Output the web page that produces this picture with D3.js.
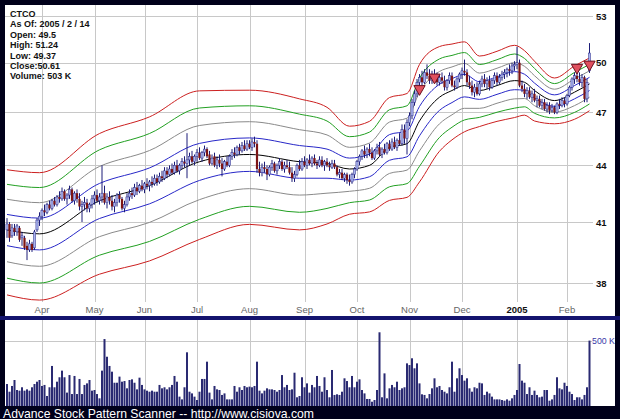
<!DOCTYPE html>
<html><head><meta charset="utf-8">
<script src="https://cdn.jsdelivr.net/npm/d3@7"></script>
<style>html,body{margin:0;padding:0;background:#00001a;} svg{display:block}</style>
</head><body>
<svg id="c" width="620" height="419"></svg>
<script>
// ---------------- DATA ----------------
const infoLines = ["CTCO", "As Of: 2005 / 2 / 14", "Open: 49.5", "High: 51.24", "Low: 49.37", "Close:50.61", "Volume: 503 K"];
const firstDay = "2004-03-12", lastDay = "2005-02-14";
const holidays = ["2004-04-09","2004-05-31","2004-06-11","2004-07-05","2004-09-06","2004-11-25","2004-12-24","2005-01-17"];
const monthLabels = ["Apr","May","Jun","Jul","Aug","Sep","Oct","Nov","Dec","2005","Feb"];
const monthStarts = ["2004-04-01","2004-05-03","2004-06-01","2004-07-01","2004-08-02","2004-09-01","2004-10-01","2004-11-01","2004-12-01","2005-01-03","2005-02-01"];
const priceTicks = [38, 41, 44, 47, 50, 53];
const volumeTicks = [500];
const volumeTickLabels = ["500 K"];

const open = [
40.6,40.9,40.3,40.7,40.5,40.7,40.2,40.2,39.8,39.6,39.9,39.7,40.6,41.1,
41.3,41.6,41.5,41.9,41.7,42.1,41.9,42.3,42.2,42.6,42.2,42.4,42.7,42.1,42.5,42.2,41.8,41.9,42.0,41.7,41.9,
42.2,42.4,42.1,42.3,42.5,42.0,42.3,42.1,41.8,42.0,42.4,42.2,41.7,41.9,42.3,42.5,42.4,42.8,42.6,42.9,
42.7,43.0,42.9,43.1,43.0,43.3,43.1,43.4,43.3,43.7,43.5,43.8,43.6,44.0,43.7,44.0,44.2,44.1,44.3,44.5,44.2,
44.5,44.7,44.4,44.7,44.9,44.6,44.1,44.5,44.0,44.3,44.1,43.8,44.2,44.0,44.5,44.7,44.6,45.0,44.8,45.1,44.9,
45.2,45.0,45.3,45.2,43.8,43.6,43.9,43.8,43.5,43.9,44.1,43.7,44.0,44.2,43.8,44.0,43.9,43.6,43.3,43.5,44.0,43.8,
44.2,44.0,44.3,44.1,44.4,44.1,44.0,44.3,44.0,44.2,44.0,43.9,44.1,43.9,43.5,43.6,43.3,43.5,43.2,43.1,43.5,
43.8,44.2,44.5,44.8,44.6,44.9,44.7,44.4,44.8,45.0,44.6,44.9,44.7,45.2,44.9,45.3,45.0,45.4,45.2,46.0,45.5,
46.4,46.8,47.6,48.1,48.8,49.1,48.8,49.4,49.2,48.9,49.3,49.0,48.8,49.1,48.9,48.5,48.9,49.2,48.6,48.5,49.0,
49.3,49.5,49.4,48.8,48.6,48.2,48.5,48.1,48.7,49.0,48.7,48.9,48.5,48.9,49.2,48.8,49.1,49.3,49.4,49.6,49.5,49.8,
49.9,50.0,48.6,48.4,48.1,48.3,47.9,48.1,47.7,47.8,47.4,47.6,47.2,47.4,47.1,47.3,47.0,47.5,47.4,47.7,
47.5,48.0,48.5,49.0,49.2,49.0,48.8,49.1,47.8,49.5];
const high = [
41.2,41.0,40.9,40.9,40.9,40.8,40.5,40.3,40.0,40.1,40.0,40.6,41.2,41.5,
41.7,41.9,42.0,42.1,42.2,42.3,42.4,42.6,42.8,42.7,42.5,42.9,42.8,42.6,42.7,42.5,42.1,42.3,42.2,42.0,42.4,
42.6,42.7,42.5,44.0,42.9,42.5,42.6,42.4,42.2,42.5,42.6,42.3,42.1,42.5,42.7,42.8,43.0,43.1,43.0,43.2,
43.1,43.3,43.2,43.4,43.5,43.5,43.6,43.7,43.9,43.9,44.0,44.1,44.2,44.3,44.1,44.4,44.5,45.8,44.7,44.8,44.6,
44.9,45.0,44.8,45.1,45.0,44.8,44.6,44.7,44.5,44.6,44.4,44.3,44.5,44.6,44.9,45.0,45.1,45.2,45.3,45.4,45.4,
45.4,45.5,45.6,45.4,44.2,44.1,44.2,44.0,44.0,44.3,44.2,44.1,44.4,44.3,44.2,44.3,44.2,43.9,43.7,44.1,44.3,44.4,
44.5,44.4,44.6,44.5,44.6,44.3,44.5,44.5,44.3,44.4,44.2,44.3,44.3,44.0,43.8,43.8,43.6,43.6,43.5,43.6,43.9,
44.3,44.6,44.9,45.1,45.0,45.2,45.0,44.9,45.2,45.3,45.0,45.2,45.3,45.4,45.5,45.6,45.5,45.8,46.3,46.3,46.6,
47.0,47.8,48.3,49.0,49.3,49.5,49.6,49.9,49.6,49.5,49.6,49.4,49.3,49.4,49.2,49.0,49.4,49.4,48.9,49.1,49.4,
49.7,50.2,49.6,49.2,48.9,48.7,48.8,48.9,49.2,49.3,49.1,49.2,49.0,49.4,49.4,49.3,49.5,49.6,49.7,49.9,50.0,50.1,
51.0,50.2,48.9,48.7,48.5,48.5,48.3,48.4,48.0,48.0,47.8,47.8,47.6,47.6,47.5,47.4,47.6,47.8,47.9,47.9,
48.1,48.6,49.1,49.4,49.5,49.4,49.3,49.2,49.0,51.24];
const low = [
40.2,40.0,40.2,40.3,40.3,40.0,39.8,39.6,39.1,39.5,39.5,39.6,40.5,40.8,
41.1,41.3,41.4,41.6,41.6,41.8,41.8,42.0,42.1,42.1,41.9,42.2,42.0,41.9,42.0,41.6,41.0,41.6,41.5,41.5,41.7,
41.9,42.0,41.9,42.0,41.9,41.7,41.9,41.6,41.5,41.8,42.0,41.6,41.5,41.8,42.1,42.2,42.3,42.4,42.5,42.6,
42.5,42.7,42.6,42.8,42.9,42.9,43.0,43.1,43.2,43.3,43.4,43.5,43.5,43.6,43.5,43.8,43.9,43.3,44.0,44.1,44.0,
44.2,44.3,44.2,44.5,44.4,44.0,44.0,43.9,43.8,43.9,43.4,43.7,43.9,43.9,44.3,44.4,44.5,44.6,44.7,44.8,44.8,
44.9,44.8,45.0,43.6,43.4,43.4,43.6,43.2,43.4,43.7,43.6,43.5,43.8,43.7,43.6,43.8,43.5,43.1,43.1,43.4,43.7,43.7,
43.9,43.8,44.0,43.9,44.0,43.8,43.9,43.9,43.7,43.9,43.7,43.8,43.8,43.4,43.3,43.2,43.1,43.0,42.9,43.0,43.3,
43.7,44.0,44.3,44.4,44.4,44.5,44.3,44.3,44.6,44.5,44.4,44.6,44.6,44.8,44.8,44.9,44.8,45.1,45.1,45.2,44.6,
46.2,46.6,47.4,47.9,48.4,48.6,48.7,49.0,48.7,48.7,48.8,48.6,48.6,48.7,48.3,48.3,48.7,48.5,48.3,48.4,48.8,
49.0,49.2,48.6,48.4,48.0,47.9,48.0,48.0,48.5,48.5,48.4,48.3,48.4,48.7,48.6,48.7,48.9,49.0,49.1,49.2,49.3,49.5,
49.6,48.5,48.2,47.9,47.8,47.8,47.6,47.6,47.3,47.3,47.2,47.1,47.0,46.9,47.0,46.9,46.9,47.2,47.3,47.3,
47.4,47.9,48.3,48.7,48.8,48.6,48.5,47.6,47.6,49.37];
const close = [
40.9,40.2,40.7,40.5,40.8,40.1,40.3,39.7,39.6,39.9,39.6,40.5,41.1,41.3,
41.6,41.5,41.9,41.7,42.1,41.9,42.3,42.2,42.6,42.2,42.4,42.7,42.1,42.5,42.2,41.8,41.9,42.0,41.7,41.9,42.2,
42.4,42.1,42.3,42.5,42.0,42.3,42.1,41.8,42.0,42.4,42.2,41.7,41.9,42.3,42.5,42.4,42.8,42.6,42.9,42.7,
43.0,42.9,43.1,43.0,43.3,43.1,43.4,43.3,43.7,43.5,43.8,43.6,44.0,43.7,44.0,44.2,44.1,44.3,44.5,44.2,44.5,
44.7,44.4,44.7,44.9,44.5,44.1,44.4,44.0,44.3,44.1,43.8,44.2,44.0,44.5,44.7,44.6,45.0,44.8,45.1,44.9,45.2,
45.0,45.3,45.2,43.8,43.6,43.9,43.8,43.5,43.9,44.1,43.7,44.0,44.2,43.8,44.0,43.9,43.6,43.3,43.5,44.0,43.8,44.2,
44.0,44.3,44.1,44.4,44.1,44.0,44.3,44.0,44.2,44.0,43.9,44.1,43.9,43.5,43.6,43.3,43.5,43.2,43.1,43.5,43.8,
44.2,44.5,44.8,44.6,44.9,44.7,44.4,44.8,45.0,44.6,44.9,44.7,45.2,44.9,45.3,45.0,45.4,45.2,46.0,45.5,46.4,
46.8,47.6,48.1,48.8,49.1,48.8,49.4,49.2,48.9,49.3,49.0,48.8,49.1,48.9,48.5,48.9,49.2,48.6,48.5,49.0,49.3,
49.5,49.4,48.8,48.6,48.2,48.5,48.1,48.7,49.0,48.7,48.9,48.5,48.9,49.2,48.8,49.1,49.3,49.4,49.6,49.5,49.8,49.9,
50.0,48.6,48.4,48.1,48.3,47.9,48.1,47.7,47.8,47.4,47.6,47.2,47.4,47.1,47.3,47.0,47.5,47.4,47.7,47.5,
48.0,48.5,49.0,49.2,49.0,48.8,49.1,47.8,48.8,50.61];
// volume in thousands
const volume = [
169,110,154,200,123,118,144,118,128,118,144,169,187,200,154,162,77,144,308,144,
187,221,272,221,103,238,92,231,92,208,92,162,174,200,118,123,92,59,272,515,
379,308,264,179,179,226,187,192,136,200,205,179,128,218,162,128,118,110,118,110,
110,162,136,144,128,144,162,231,187,72,51,144,413,110,97,72,46,110,208,208,
341,103,51,154,128,123,85,97,51,51,51,154,110,144,123,154,144,149,144,154,
341,118,97,118,136,128,128,123,110,123,238,144,162,123,128,256,67,77,221,144,
174,103,
162,144,231,154,110,221,123,67,277,85,90,85,110,213,192,144,231,144,187,205,
123,97,54,54,33,46,123,567,67,251,59,136,162,144,187,123,136,144,328,315,
367,290,328,174,90,85,59,92,136,213,144,154,123,110,97,144,341,110,213,290,
238,195,213,136,110,144,136,179,174,85,110,97,72,51,51,51,46,41,51,41,
59,85,123,323,195,179,92,144,85,118,85,67,72,123,123,41,51,85,221,136,
128,179,154,110,92,46,67,67,51,85,144,503];

// envelope bands: centre price and band step (price) read at bar indices
const bandIdx    = [0, 13, 37, 57, 77, 97, 117, 128, 137, 145, 153, 160, 165, 173, 178, 183, 189, 196, 203, 207, 211, 219, 227, 233];
const bandCenter = [40.6, 40.4, 42.1, 42.9, 44.2, 44.6, 44.2, 44.1, 43.8, 44.0, 45.0, 45.2, 46.5, 47.9, 48.3, 48.6, 48.3, 48.6, 48.9, 48.8, 48.3, 47.7, 48.2, 48.7];
const bandStep   = [0.79, 0.80, 0.92, 0.96, 1.02, 0.93, 0.90, 0.80, 0.60, 0.62, 0.72, 0.73, 0.85, 0.78, 0.72, 0.68, 0.53, 0.53, 0.55, 0.49, 0.45, 0.34, 0.40, 0.40];
const bandColors = ["#cc2020","#22a022","#8a8a8a","#2828c8","#000000","#2828c8","#8a8a8a","#22a022","#cc2020"];
const bandLevels = [4,3,2,1,0,-1,-2,-3,-4];

const markerIdx   = [165, 171, 228, 233];
const markerPrice = [48.4, 49.1, 49.7, 49.9];

// ---------------- DRAW ----------------
const svg = d3.select("#c");
const W = 620, H = 419;
const fmt = d3.timeFormat("%Y-%m-%d");
const parse = d3.timeParse("%Y-%m-%d");
const hol = new Set(holidays);
const dates = d3.timeDay.range(parse(firstDay), d3.timeDay.offset(parse(lastDay), 1))
  .filter(d => d.getDay() !== 0 && d.getDay() !== 6 && !hol.has(fmt(d))).map(fmt);

const bars = dates.map((d, i) => ({d, i, o: open[i], h: high[i], l: low[i], c: close[i], v: volume[i]}));

const x = d3.scalePoint().domain(dates).range([7, 589.5]);
const y = d3.scaleLog().domain([38, 53]).range([283, 16]);
const yv = d3.scaleLinear().domain([0, 500]).range([406, 341]);

const FONT = "'Liberation Sans', Arial, sans-serif";

svg.append("rect").attr("width", W).attr("height", H).attr("fill", "#00001a");
// main panel
svg.append("rect").attr("x", 5).attr("y", 5).attr("width", 610).attr("height", 311).attr("fill", "#fff");
svg.append("rect").attr("x", 0).attr("y", 316).attr("width", W).attr("height", 4).attr("fill", "#14146e");
// volume panel
svg.append("rect").attr("x", 5).attr("y", 320).attr("width", 610).attr("height", 86).attr("fill", "#fff");

const grid = "#c8c8c8";
// horizontal price grid
svg.append("g").selectAll("line").data(priceTicks).join("line")
  .attr("x1", 5).attr("x2", 593).attr("y1", d => Math.round(y(d)) + 0.5).attr("y2", d => Math.round(y(d)) + 0.5)
  .attr("stroke", grid).attr("stroke-width", 1);
svg.append("g").selectAll("text").data(priceTicks).join("text")
  .attr("x", 596).attr("y", d => y(d) + 3.5).text(d => d)
  .attr("font-family", FONT).attr("font-size", 9.5).attr("font-weight", "bold").attr("fill", "#111");
// vertical month grid
svg.append("g").selectAll("line").data(monthStarts).join("line")
  .attr("x1", d => Math.round(x(d)) + 0.5).attr("x2", d => Math.round(x(d)) + 0.5)
  .attr("y1", 5).attr("y2", 302).attr("stroke", grid);
svg.append("g").selectAll("line").data(monthStarts).join("line")
  .attr("x1", d => Math.round(x(d)) + 0.5).attr("x2", d => Math.round(x(d)) + 0.5)
  .attr("y1", 320).attr("y2", 406).attr("stroke", grid);
svg.append("g").selectAll("text").data(monthStarts).join("text")
  .attr("x", d => x(d)).attr("y", 313).attr("text-anchor", "middle")
  .text((d, i) => monthLabels[i])
  .attr("font-family", FONT).attr("font-size", 9.5)
  .attr("font-weight", (d, i) => monthLabels[i] === "2005" ? "bold" : "normal")
  .attr("fill", (d, i) => monthLabels[i] === "2005" ? "#111" : "#666");
// volume grid
svg.append("g").selectAll("line").data(volumeTicks).join("line")
  .attr("x1", 5).attr("x2", 592).attr("y1", d => Math.round(yv(d)) + 0.5).attr("y2", d => Math.round(yv(d)) + 0.5)
  .attr("stroke", grid);
svg.append("g").selectAll("text").data(volumeTicks).join("text")
  .attr("x", 592).attr("y", d => yv(d) + 3).text((d, i) => volumeTickLabels[i])
  .attr("font-family", FONT).attr("font-size", 8.8).attr("fill", "#3a3aa8");

// bands
svg.append("clipPath").attr("id", "pc").append("rect").attr("x", 5).attr("y", 5).attr("width", 588).attr("height", 300);
const gBand = svg.append("g").attr("clip-path", "url(#pc)");
bandLevels.forEach((k, j) => {
  const pts = bandIdx.map((idx, m) => [x(dates[idx]), y(bandCenter[m] + k * bandStep[m])]);
  gBand.append("path").attr("d", d3.line().curve(d3.curveMonotoneX)(pts))
    .attr("fill", "none").attr("stroke", bandColors[j]).attr("stroke-width", 1);
});

// candles
const gC = svg.append("g");
gC.selectAll("line").data(bars).join("line")
  .attr("x1", d => x(d.d)).attr("x2", d => x(d.d))
  .attr("y1", d => y(d.h)).attr("y2", d => y(d.l))
  .attr("stroke", "#1c1c78").attr("stroke-width", 1);
gC.selectAll("rect").data(bars).join("rect")
  .attr("x", d => x(d.d) - 1.1).attr("width", 2.2)
  .attr("y", d => y(Math.max(d.o, d.c)))
  .attr("height", d => Math.max(1, Math.abs(y(d.o) - y(d.c))))
  .attr("fill", d => d.c >= d.o ? "#a9b3ee" : "#7c1414")
  .attr("stroke", d => d.c >= d.o ? "#2a2a88" : "none").attr("stroke-width", 0.5);

// markers
svg.append("g").selectAll("path").data(markerIdx).join("path")
  .attr("d", d3.symbol(d3.symbolTriangle, 55))
  .attr("transform", (d, i) => `translate(${x(dates[d])},${y(markerPrice[i])}) rotate(180)`)
  .attr("fill", "#e0505e").attr("stroke", "#6a1020").attr("stroke-width", 1);

// volume bars
svg.append("g").selectAll("rect").data(bars).join("rect")
  .attr("x", d => x(d.d) - 1).attr("width", 2)
  .attr("y", d => yv(d.v)).attr("height", d => yv(0) - yv(d.v))
  .attr("fill", "#2a2a72");

// info text
svg.append("g").selectAll("text").data(infoLines).join("text")
  .attr("x", 10).attr("y", (d, i) => 17 + i * 10.4).text(d => d)
  .attr("font-family", FONT).attr("font-size", 9).attr("font-weight", "bold").attr("fill", "#111");

// footer
svg.append("text").attr("x", 3).attr("y", 417.5)
  .text("Advance Stock Pattern Scanner -- http://www.cisiova.com")
  .attr("font-family", FONT).attr("font-size", 12.2).attr("fill", "#fff");
</script>
</body></html>
